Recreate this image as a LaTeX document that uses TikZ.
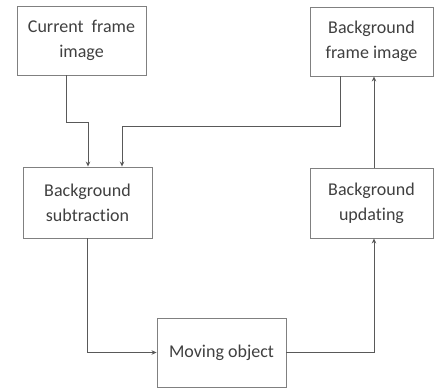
\documentclass[tikz,border=0pt]{standalone}
\usepackage{fontspec}
\setmainfont[Ligatures=NoCommon]{Carlito}
\usetikzlibrary{arrows.meta}
\definecolor{boxline}{gray}{0.50}
\definecolor{wire}{gray}{0.35}
\definecolor{txt}{gray}{0.25}
\tikzset{
  blk/.style={draw=boxline, line width=0.9pt, fill=white, inner sep=0pt,
    align=center, text=txt, font=\fontsize{18}{25}\selectfont},
  wireline/.style={draw=wire, line width=0.9pt},
  flow/.style={wireline, -{Stealth[length=5pt,width=4.5pt]}}
}
\begin{document}
\begin{tikzpicture}[x=1pt,y=-1pt]
  \useasboundingbox (0,0) rectangle (434,391);
  % processing blocks
  \node[blk, minimum width=129pt, minimum height=69pt] (cur) at (81.5,40.5) {Current\hspace{0.45em}frame\\image};
  \node[blk, minimum width=123pt, minimum height=69pt] (bgimg) at (371.5,41.5) {Background\\frame image};
  \node[blk, minimum width=129pt, minimum height=71pt] (sub) at (87.5,202.5) {Background\\subtraction};
  \node[blk, minimum width=123pt, minimum height=70pt] (upd) at (371.5,203) {Background\\updating};
  \node[blk, minimum width=129pt, minimum height=69pt] (mov) at (221.5,352.5) {Moving object};
  % bend points of the connectors
  \coordinate (c1a) at (66,122);
  \coordinate (c1b) at (88,122);
  \coordinate (c2a) at (340,126);
  \coordinate (c2b) at (122,126);
  \coordinate (c3) at (87.5,352.5);
  \coordinate (c4) at (374,352.5);
  % connectors
  \draw[flow] (cur.south -| c1a) -- (c1a) -- (c1b) -- (sub.north -| c1b);
  \draw[flow] (bgimg.south -| c2a) -- (c2a) -- (c2b) -- (sub.north -| c2b);
  \draw[flow] (sub.south) -- (c3) -- (mov.west);
  \draw[flow] (mov.east) -- (c4) -- (upd.south -| c4);
  \draw[flow] (upd.north -| c4) -- (bgimg.south -| c4);
\end{tikzpicture}
\end{document}
